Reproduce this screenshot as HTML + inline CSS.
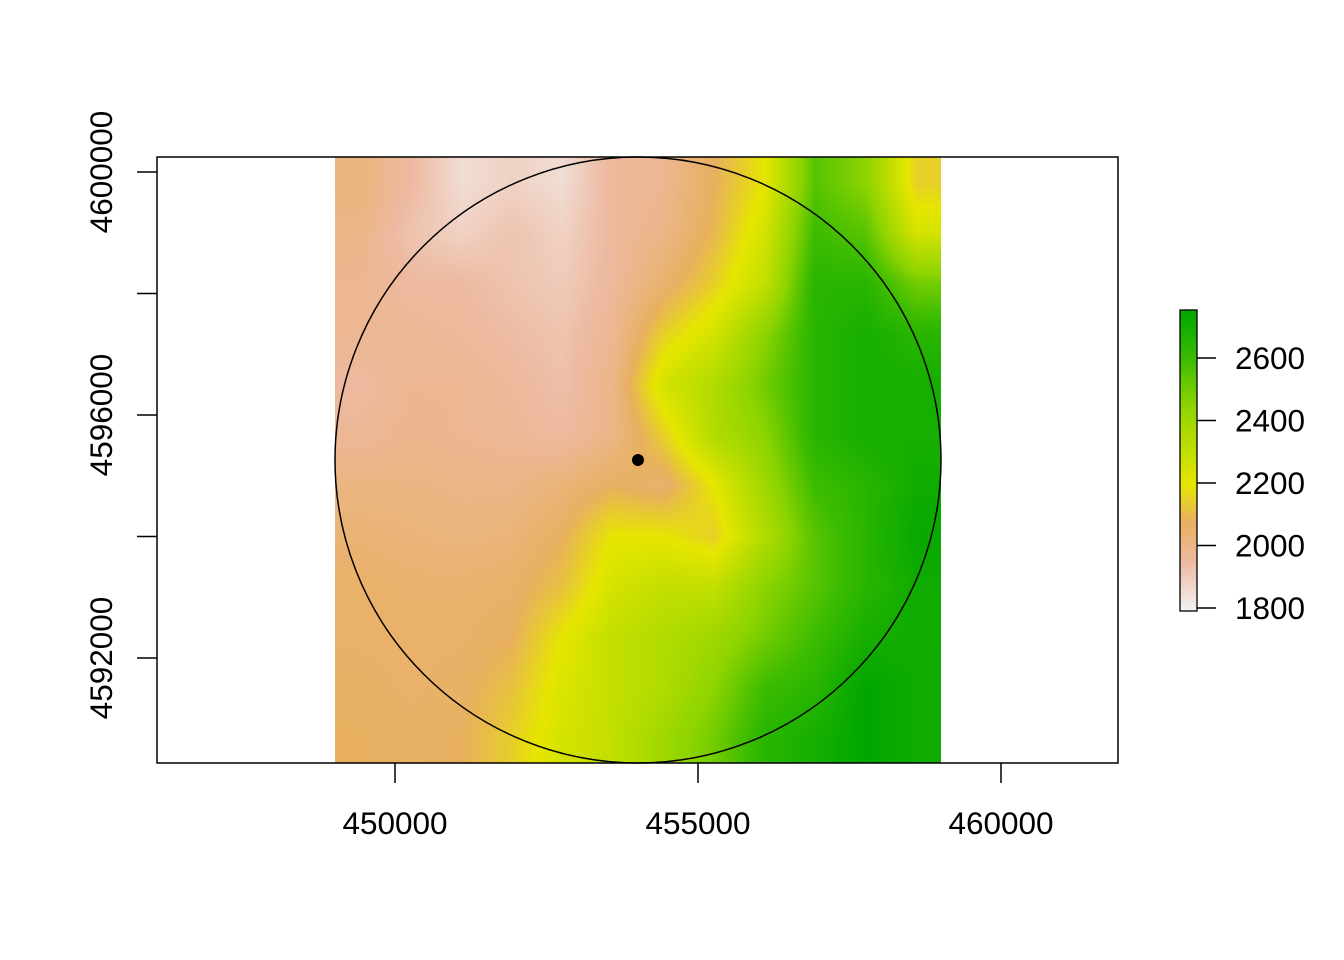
<!DOCTYPE html>
<html><head><meta charset="utf-8"><style>
body{margin:0;background:#fff;}
svg text{font-family:"Liberation Sans",sans-serif;font-size:31.5px;fill:#000;}
#rc{position:absolute;left:335px;top:157px;}
</style></head><body>
<canvas id="rc" width="606" height="606"></canvas>
<svg id="s" width="1344" height="960" style="position:absolute;left:0;top:0">
<defs><linearGradient id="cb" x1="0" y1="1" x2="0" y2="0">
<stop offset="0" stop-color="#F2F2F2"/><stop offset="0.165" stop-color="#EDB9A0"/><stop offset="0.3" stop-color="#E8B060"/><stop offset="0.42" stop-color="#E6E600"/><stop offset="0.68" stop-color="#8ED400"/><stop offset="0.835" stop-color="#3CBC00"/><stop offset="1" stop-color="#00A600"/></linearGradient></defs>
<rect x="157" y="157" width="961" height="606" fill="none" stroke="#000" stroke-width="1.5"/>
<g id="axes"></g>
<circle cx="638" cy="460" r="303" fill="none" stroke="#000" stroke-width="1.5"/>
<circle cx="638" cy="460" r="6" fill="#000"/>
<rect x="1180" y="310" width="17" height="301" fill="url(#cb)" stroke="#000" stroke-width="1.3"/>
</svg>
<script>
const xTicks=[450000,455000,460000];
const yTicks=[4592000,4594000,4596000,4598000,4600000];
const yLabels=[4592000,4596000,4600000];
const cbTicks=[1800,2000,2200,2400,2600];
const elev=[
[2020,1950,1850,1880,1850,1960,1980,2080,2200,2550,2450,2150],
[2000,1920,1880,1920,1880,1960,2000,2100,2250,2600,2550,2250],
[1980,1950,1950,1920,1900,1960,2050,2150,2300,2650,2650,2500],
[1980,1970,1960,1940,1920,1980,2150,2250,2450,2650,2700,2650],
[1950,1980,1980,1960,1930,2000,2250,2350,2500,2650,2700,2700],
[1970,1990,1980,1970,1950,2000,2150,2350,2450,2650,2700,2700],
[2010,2010,2000,2000,2030,2080,2050,2200,2400,2600,2650,2720],
[2040,2030,2020,2030,2080,2200,2200,2150,2350,2550,2650,2740],
[2060,2050,2050,2060,2120,2250,2300,2300,2450,2550,2650,2720],
[2060,2060,2060,2080,2200,2300,2350,2400,2500,2600,2700,2720],
[2070,2060,2070,2120,2230,2300,2350,2450,2600,2650,2760,2720],
[2080,2070,2080,2150,2250,2300,2400,2500,2650,2700,2760,2720]];
const xs=v=>395+(v-450000)*303/5000;
const ys=v=>172+(4600000-v)*243/4000;
const cs=v=>608-(v-1800)*62.5/200;
const NS='http://www.w3.org/2000/svg';
const g=document.getElementById('axes');
function mk(t,a,txt){const e=document.createElementNS(NS,t);for(const k in a)e.setAttribute(k,a[k]);if(txt!==undefined)e.textContent=txt;g.appendChild(e);return e;}
xTicks.forEach(v=>{const x=xs(v);
const l=mk('line',{x1:x,x2:x,y1:763,y2:783,stroke:'#000','stroke-width':1.5});


const t=mk('text',{x:x,y:834,'text-anchor':'middle'},v);

});
yTicks.forEach(v=>{const y=ys(v);
const l=mk('line',{x1:137,x2:157,y1:y,y2:y,stroke:'#000','stroke-width':1.5});

});
yLabels.forEach(v=>{const y=ys(v);
const t=mk('text',{x:0,y:0,'text-anchor':'middle',transform:`translate(112,${y}) rotate(-90)`},v);

});
cbTicks.forEach(v=>{const y=cs(v);
const l=mk('line',{x1:1197,x2:1216,y1:y,y2:y,stroke:'#000','stroke-width':1.5});


const t=mk('text',{x:1235,y:y+11},v);

});
const stops=[[1790,[242,242,242]],[1950,[237,185,160]],[2080,[232,176,96]],[2200,[230,230,0]],[2450,[142,212,0]],[2600,[60,188,0]],[2760,[0,166,0]]];
function col(v){if(v<=stops[0][0])return stops[0][1];for(let i=1;i<stops.length;i++){if(v<=stops[i][0]){const a=stops[i-1],b=stops[i],t=(v-a[0])/(b[0]-a[0]);return a[1].map((c,k)=>c+(b[1][k]-c)*t);}}return stops[stops.length-1][1];}
const cv=document.getElementById('rc'),ctx=cv.getContext('2d'),W=606,n=elev.length,m=elev[0].length;
const img=ctx.createImageData(W,W);
for(let py=0;py<W;py++){let fy=py/W*n-0.5;fy=Math.max(0,Math.min(n-1.0001,fy));const r=Math.floor(fy),ty=fy-r;
for(let px=0;px<W;px++){let fx=px/W*m-0.5;fx=Math.max(0,Math.min(m-1.0001,fx));const c=Math.floor(fx),tx=fx-c;
const v=(elev[r][c]*(1-tx)+elev[r][c+1]*tx)*(1-ty)+(elev[r+1][c]*(1-tx)+elev[r+1][c+1]*tx)*ty;
const k=col(v),i=(py*W+px)*4;img.data[i]=k[0];img.data[i+1]=k[1];img.data[i+2]=k[2];img.data[i+3]=255;}}
ctx.putImageData(img,0,0);
</script>
</body></html>
